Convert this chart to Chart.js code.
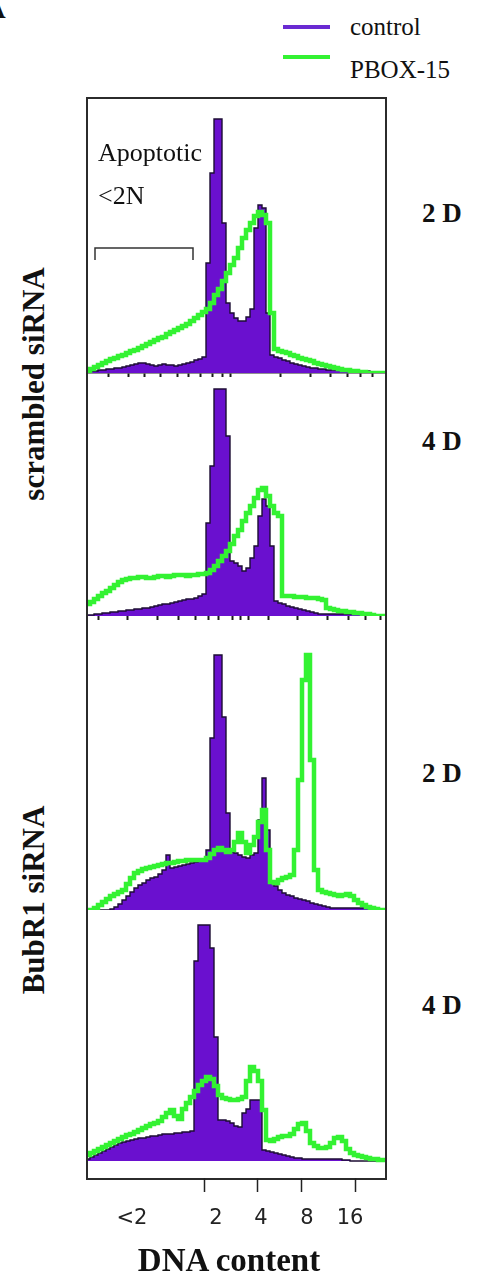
<!DOCTYPE html>
<html>
<head>
<meta charset="utf-8">
<script src="https://cdn.jsdelivr.net/npm/chart.js@4.4.1/dist/chart.umd.min.js"></script>
<style>
  html, body { margin: 0; padding: 0; background: #fff; }
  body { position: relative; width: 479px; height: 1278px; overflow: hidden; font-family: "Liberation Serif", serif; color: #111; }
  .panel { position: absolute; left: 88px; width: 297px; }
  #frame { position: absolute; left: 86px; top: 97px; width: 297px; height: 1079px; border: 2px solid #2b2b2b; pointer-events: none; }
  .txt { position: absolute; line-height: 1; white-space: nowrap; font-family: "Liberation Serif", serif; }
  .bold { font-weight: bold; }
  .side { position: absolute; line-height: 1; white-space: nowrap; font-weight: bold; font-size: 31px; transform: translate(-50%, -50%) rotate(-90deg); }
  .day { font-size: 27px; font-weight: bold; left: 422px; }
  .swatch { position: absolute; left: 283px; width: 47px; height: 4px; }
</style>
</head>
<body>
<div class="txt bold" style="left:-16px; top:-7px; font-size:30px;">A</div>
<div id="legend"></div>

<div id="frame"></div>
<div class="panel" style="top:99px; height:279px;"><canvas id="p1"></canvas></div>
<div class="panel" style="top:374px; height:247px;"><canvas id="p2"></canvas></div>
<div class="panel" style="top:620px; height:290px;"><canvas id="p3"></canvas></div>
<div class="panel" style="top:912px; height:320px;"><canvas id="p4"></canvas></div>

<div class="txt" style="left:98px; top:140px; font-size:26px;">Apoptotic</div>
<div class="txt" style="left:98px; top:183px; font-size:26px;">&lt;2N</div>

<div class="txt day" style="top:200px;">2 D</div>
<div class="txt day" style="top:428px;">4 D</div>
<div class="txt day" style="top:760px;">2 D</div>
<div class="txt day" style="top:992px;">4 D</div>

<div class="side" style="left:33px; top:384px;">scrambled siRNA</div>
<div class="side" style="left:33px; top:900px;">BubR1 siRNA</div>

<div class="txt bold" style="left:229px; top:1244px; font-size:33px; transform:translateX(-50%);">DNA content</div>

<script>
// channel index of each histogram bin (DNA content, linear channels)
const channels = Array.from({ length: 75 }, (_, i) => i);

// scrambled siRNA, day 2
const scr2dControl = [
  0, 1, 2, 2, 3, 3, 4, 4, 5, 5,
  6, 7, 8, 9, 10, 10, 9, 8, 7, 8,
  9, 8, 8, 7, 8, 9, 10, 11, 13, 14,
  16, 110, 200, 254, 254, 150, 70, 60, 55, 52,
  52, 56, 64, 145, 168, 165, 60, 18, 16, 15,
  13, 12, 10, 9, 8, 7, 6, 5, 5, 4,
  4, 3, 3, 3, 3, 2, 2, 2, 2, 2,
  2, 2, 0, 0, 0
];
const scr2dPbox = [
  0, 2, 4, 6, 8, 10, 12, 14, 15, 17,
  18, 20, 22, 23, 25, 27, 29, 31, 33, 35,
  36, 39, 41, 43, 45, 47, 49, 52, 55, 58,
  61, 64, 70, 78, 84, 92, 100, 108, 115, 125,
  135, 143, 150, 157, 161, 158, 150, 60, 24, 22,
  21, 20, 18, 17, 15, 14, 13, 12, 10, 9,
  8, 7, 6, 5, 4, 3, 3, 2, 2, 1,
  1, 0, 0, 0, 0
];

// scrambled siRNA, day 4
const scr4dControl = [
  0, 1, 1, 2, 2, 3, 3, 4, 4, 5,
  5, 6, 6, 7, 7, 8, 8, 9, 10, 11,
  12, 12, 13, 14, 15, 16, 17, 17, 18, 20,
  22, 93, 150, 227, 227, 227, 180, 55, 53, 50,
  45, 48, 58, 70, 100, 117, 110, 70, 15, 13,
  12, 10, 9, 8, 7, 6, 5, 4, 3, 2,
  2, 2, 2, 2, 2, 2, 2, 2, 2, 2,
  2, 2, 1, 0, 0
];
const scr4dPbox = [
  10, 12, 14, 17, 20, 23, 25, 28, 31, 34,
  36, 37, 38, 38, 39, 39, 38, 38, 39, 40,
  40, 39, 40, 41, 41, 41, 40, 41, 41, 42,
  42, 43, 46, 50, 55, 60, 65, 72, 80, 86,
  95, 103, 110, 118, 126, 128, 120, 110, 103, 100,
  20, 20, 20, 19, 19, 19, 18, 18, 18, 17,
  16, 8, 7, 6, 5, 5, 4, 4, 3, 3,
  2, 2, 1, 0, 0
];

// BubR1 siRNA, day 2
const bub2dControl = [
  0, 0, 0, 0, 0, 0, 0, 1, 3, 6,
  10, 14, 18, 22, 25, 27, 30, 32, 33, 36,
  40, 55, 42, 43, 44, 45, 46, 47, 48, 49,
  50, 60, 172, 255, 255, 193, 97, 58, 57, 55,
  53, 52, 55, 57, 90, 132, 80, 27, 24, 20,
  17, 15, 14, 12, 11, 10, 9, 7, 6, 5,
  4, 3, 2, 2, 2, 2, 2, 2, 2, 2,
  2, 2, 2, 1, 0
];
const bub2dPbox = [
  0, 0, 0, 2, 5, 8, 11, 14, 16, 18,
  20, 26, 32, 37, 39, 41, 42, 43, 44, 45,
  46, 47, 47, 48, 49, 49, 50, 50, 50, 50,
  50, 52, 56, 60, 62, 60, 58, 60, 68, 77,
  68, 57, 65, 73, 88, 100, 60, 28, 27, 30,
  32, 33, 35, 60, 130, 230, 255, 150, 40, 20,
  18, 17, 16, 15, 14, 15, 16, 14, 10, 7,
  5, 3, 2, 1, 0
];

// BubR1 siRNA, day 4
const bub4dControl = [
  0, 2, 4, 6, 8, 10, 12, 14, 16, 18,
  19, 20, 21, 22, 23, 23, 24, 25, 25, 26,
  27, 27, 27, 28, 28, 29, 29, 30, 200, 236,
  236, 236, 213, 124, 41, 41, 40, 38, 35, 34,
  48, 52, 61, 61, 61, 11, 10, 9, 8, 7,
  6, 5, 4, 3, 3, 2, 2, 2, 2, 2,
  2, 2, 2, 2, 2, 1, 1, 0, 0, 0,
  0, 0, 0, 0, 0
];
const bub4dPbox = [
  4, 6, 8, 10, 12, 14, 16, 18, 20, 22,
  24, 26, 27, 29, 31, 33, 35, 37, 38, 40,
  44, 48, 51, 45, 42, 52, 58, 64, 70, 76,
  80, 84, 82, 75, 66, 63, 62, 61, 61, 62,
  64, 80, 94, 90, 80, 51, 21, 20, 22, 24,
  25, 25, 27, 32, 37, 38, 30, 18, 15, 13,
  13, 14, 18, 23, 24, 20, 12, 8, 6, 5,
  4, 3, 2, 2, 1
];

// DNA content axis
const tickMarks = [29.5, 43, 53.75, 67.25];
const tickLabelPos = [11.5, 32.5, 43.75, 55.25, 66];
const tickLabels = ['<2', '2', '4', '8', '16'];

// channel marks along the lower edge of the scrambled panels
const gateTicks1 = [5.5, 10.5, 14.75, 18.5, 22.75, 25.5, 28.5, 31.5, 34, 36, 48.5, 56, 61, 65.25, 68.5, 71.5];
const gateTicks2 = [3, 10.25, 17.75, 23, 27.25, 30.5, 33, 36.5, 38.5, 40.5, 45.5, 52.75, 60.25, 65.5, 69.75, 73.5];

// apoptotic (<2N) gate: channel range and bracket height in counts
const apoptoticGate = [2.25, 26.75];
const gateLevel = [113, 125];

const PURPLE = '#6a10cf';
const OUTLINE = '#1c0d33';
const GREEN = '#33f232';
const X_MIN = 0.5, X_MAX = 74.75;

function histogram(values) {
  const pts = values.map((v, i) => ({ x: channels[i], y: v }));
  pts.push({ x: channels.length, y: values[values.length - 1] });
  return pts;
}

function hiddenX() {
  return { type: 'linear', min: X_MIN, max: X_MAX, display: false };
}

function gateAxis(ticksAt, showLine) {
  return {
    type: 'linear', min: X_MIN, max: X_MAX, position: 'bottom',
    grid: { display: true, drawOnChartArea: false, drawTicks: true, tickLength: 4, tickWidth: 2, tickColor: '#1a1a1a' },
    border: { display: showLine, color: '#222', width: 1.5 },
    ticks: { display: false },
    afterBuildTicks: s => { s.ticks = ticksAt.map(v => ({ value: v })); },
    afterFit: s => { s.height = 5; s.paddingLeft = 0; s.paddingRight = 0; }
  };
}

function drawPanel(id, control, pbox, scales, extra) {
  return new Chart(document.getElementById(id), {
    type: 'line',
    data: {
      datasets: [
        { label: 'control', data: histogram(control), stepped: 'after', fill: 'origin',
          backgroundColor: PURPLE, borderColor: OUTLINE, borderWidth: 1.4, pointRadius: 0, order: 2 },
        { label: 'PBOX-15', data: histogram(pbox), stepped: 'after', fill: false,
          borderColor: GREEN, borderWidth: 4.5, pointRadius: 0, order: 1 }
      ].concat(extra || [])
    },
    options: {
      responsive: true,
      maintainAspectRatio: false,
      animation: false,
      events: [],
      layout: { padding: 0 },
      plugins: { legend: { display: false }, tooltip: { enabled: false } },
      scales: scales
    }
  });
}

const bracket = {
  label: '',
  data: [
    { x: apoptoticGate[0], y: gateLevel[0] },
    { x: apoptoticGate[0], y: gateLevel[1] },
    { x: apoptoticGate[1], y: gateLevel[1] },
    { x: apoptoticGate[1], y: gateLevel[0] }
  ],
  borderColor: '#333', borderWidth: 1.5, pointRadius: 0, fill: false, order: 0
};

const chart1 = drawPanel('p1', scr2dControl, scr2dPbox, {
  x: gateAxis(gateTicks1, true),
  y: { min: 0, max: 274, display: false }
}, [bracket]);

drawPanel('p2', scr4dControl, scr4dPbox, {
  x: gateAxis(gateTicks2, false),
  y: { min: 0, max: 242, display: false }
});

drawPanel('p3', bub2dControl, bub2dPbox, {
  x: hiddenX(),
  y: { min: 0, max: 290, display: false }
});

drawPanel('p4', bub4dControl, bub4dPbox, {
  x: {
    type: 'linear', min: X_MIN, max: X_MAX, position: 'bottom', weight: 0,
    grid: { display: true, drawOnChartArea: false, drawTicks: true, tickLength: 14, tickWidth: 1.5, tickColor: '#222' },
    border: { display: false },
    ticks: { display: false },
    afterBuildTicks: s => { s.ticks = tickMarks.map(v => ({ value: v })); },
    afterFit: s => { s.height = 14; s.paddingLeft = 0; s.paddingRight = 0; }
  },
  xl: {
    type: 'linear', min: X_MIN, max: X_MAX, position: 'bottom', weight: 1,
    grid: { display: false, drawTicks: false },
    border: { display: false },
    ticks: {
      autoSkip: false, maxRotation: 0, padding: 14, color: '#222',
      font: { family: 'DejaVu Sans', size: 21 },
      callback: (v, i) => tickLabels[i]
    },
    afterBuildTicks: s => { s.ticks = tickLabelPos.map(v => ({ value: v })); },
    afterFit: s => { s.height = 40; s.paddingLeft = 0; s.paddingRight = 0; }
  },
  y: { min: -17, max: 249, display: false }
});

// legend built from the first panel's series
const legendSlots = [{ line: 25, text: 14 }, { line: 55, text: 57 }];
const legend = document.getElementById('legend');
chart1.data.datasets.filter(d => d.label).forEach((d, i) => {
  const slot = legendSlots[i];
  const sw = document.createElement('div');
  sw.className = 'swatch';
  sw.style.top = slot.line + 'px';
  sw.style.background = d.label === 'control' ? '#6a2ad2' : d.borderColor;
  legend.appendChild(sw);
  const t = document.createElement('div');
  t.className = 'txt';
  t.style.left = '350px';
  t.style.top = slot.text + 'px';
  t.style.fontSize = '25px';
  t.textContent = d.label;
  legend.appendChild(t);
});
</script>
</body>
</html>
